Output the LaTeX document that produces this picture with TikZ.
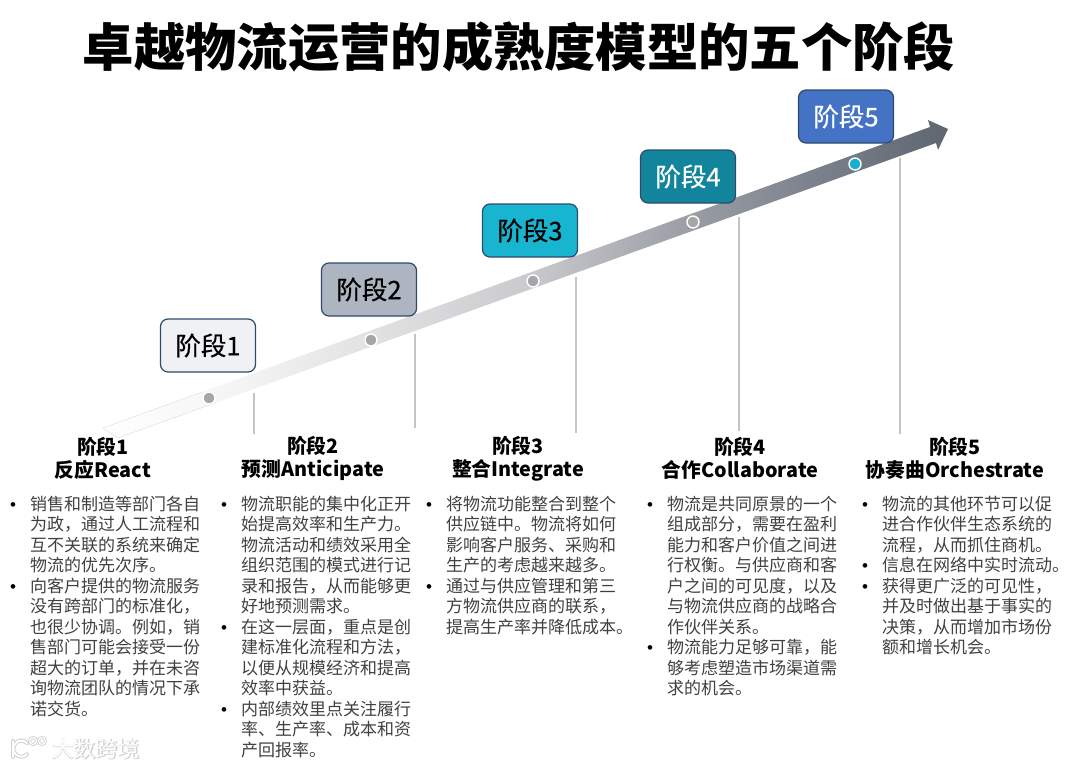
\documentclass[tikz,border=0pt]{standalone}
\usepackage{fontspec}
\setmainfont{Noto Sans CJK SC}
\newfontfamily\wmfont[FakeBold=2.5]{Noto Sans CJK SC}
\newfontfamily\stagefont[FakeBold=0.5]{Noto Sans CJK SC}
\newfontfamily\bulfont{Liberation Sans}
\usepackage{xcolor}
\usepackage{tikz}
\usetikzlibrary{calc}

\definecolor{edgeblue}{HTML}{2F4A6D}
\definecolor{stageA}{HTML}{F0F1F4}
\definecolor{stageB}{HTML}{ADB5C1}
\definecolor{stageC}{HTML}{17B5D0}
\definecolor{stageD}{HTML}{12859C}
\definecolor{stageE}{HTML}{4472C4}
\definecolor{bodygray}{HTML}{404040}
\definecolor{guidegray}{HTML}{C4C4C4}
\definecolor{dotgray}{HTML}{A6A6A6}
\definecolor{dotcyan}{HTML}{17B0CF}

\definecolor{bandA}{HTML}{F4F4F4}
\definecolor{bandB}{HTML}{E2E2E2}
\definecolor{bandC}{HTML}{C9CACD}
\definecolor{bandD}{HTML}{9A9DA5}
\definecolor{bandE}{HTML}{737A86}
\definecolor{bandF}{HTML}{5E6672}

\pgfdeclarehorizontalshading{trendshade}{100bp}{
    color(0bp)=(white); color(25bp)=(white); color(33bp)=(bandA);
    color(40.8bp)=(bandB); color(50.3bp)=(bandC);
    color(59.7bp)=(bandD); color(69.2bp)=(bandE);
    color(75bp)=(bandF); color(100bp)=(bandF)}

\newcommand{\itm}{\makebox[20pt][l]{\textcolor{black}{\bulfont\textbullet}}}
\newcommand{\ind}{\hspace*{20pt}}

\begin{document}
\begin{tikzpicture}[
    x=1pt,
    y=-1pt,
    box/.style={
        draw=edgeblue,
        line width=1.2pt,
        rounded corners=7.5pt,
        align=center,
        minimum width=95pt,
        minimum height=53pt,
        inner sep=0pt,
        font=\fontsize{25.5}{30}\stagefont
    },
    dot/.style={
        circle,
        draw=white,
        line width=1.4pt,
        minimum size=12pt,
        inner sep=0pt
    },
    guide/.style={
        draw=guidegray,
        line width=1.3pt
    },
    head/.style={
        align=center,
        inner sep=0pt,
        font=\fontsize{19.8}{23.5}\selectfont\bfseries
    },
    body/.style={
        anchor=north west,
        align=left,
        inner sep=0pt,
        text=bodygray,
        font=\fontsize{17}{20.5}\selectfont
    },
    wmark/.style={
        inner sep=0pt,
        font=\fontsize{22}{24}\selectfont
    }
]
\useasboundingbox (0,0) rectangle (1080,769);

\node[inner sep=0pt, font=\fontsize{51.3}{56}\selectfont\bfseries] (title) at (519,47)
{卓越物流运营的成熟度模型的五个阶段};

\coordinate (tailA) at (103,428);
\coordinate (tailB) at (118,438);
\coordinate (neckA) at (930,127);
\coordinate (barbA) at (928,120);
\coordinate (tip) at (948,129);
\coordinate (barbB) at (938,150);
\coordinate (neckB) at (936,143);
\shade[shading=trendshade] (tailA) -- (neckA) -- (barbA) -- (tip) -- (barbB) -- (neckB) -- (tailB) -- cycle;
\coordinate (edgeA) at ($(tailA)!0.12!(neckA)$);
\coordinate (edgeB) at ($(tailB)!0.12!(neckB)$);
\draw[black!12, line width=0.5pt] (edgeA) -- (tailA) -- (tailB) -- (edgeB);

\coordinate (topA) at (254,393);
\coordinate (botA) at (254,434);
\coordinate (topB) at (415,334);
\coordinate (botB) at (415,428);
\coordinate (topC) at (576,277);
\coordinate (botC) at (576,433);
\coordinate (topD) at (739,217);
\coordinate (botD) at (739,431);
\coordinate (topE) at (900,158);
\coordinate (botE) at (900,434);
\draw[guide] (topA) -- (botA);
\draw[guide] (topB) -- (botB);
\draw[guide] (topC) -- (botC);
\draw[guide] (topD) -- (botD);
\draw[guide] (topE) -- (botE);

\node[dot, fill=dotgray] (dotA) at (209,398) {};
\node[dot, fill=dotgray] (dotB) at (371,340) {};
\node[dot, fill=dotgray] (dotC) at (533,281) {};
\node[dot, fill=dotgray] (dotD) at (693,222) {};
\node[dot, fill=dotcyan] (dotE) at (855,164) {};

\node[box, fill=stageA] (boxA) at (208,345.5) {阶段1};
\node[box, fill=stageB] (boxB) at (369,289.5) {阶段2};
\node[box, fill=stageC] (boxC) at (530,230.5) {阶段3};
\node[box, fill=stageD, text=white] (boxD) at (688,176.5) {阶段4};
\node[box, fill=stageE, text=white] (boxE) at (846,116.5) {阶段5};

\node[head] (headA) at (103,458.5) {阶段1\\反应React};
\node[head] (headB) at (313,458.5) {阶段2\\预测Anticipate};
\node[head] (headC) at (518,458.5) {阶段3\\整合Integrate};
\node[head] (headD) at (740,458.5) {阶段4\\合作Collaborate};
\node[head] (headE) at (955,458.5) {阶段5\\协奏曲Orchestrate};

\node[body] (bodyA) at (10,495.5) {
\itm 销售和制造等部门各自\\
\ind 为政，通过人工流程和\\
\ind 互不关联的系统来确定\\
\ind 物流的优先次序。\\
\itm 向客户提供的物流服务\\
\ind 没有跨部门的标准化，\\
\ind 也很少协调。例如，销\\
\ind 售部门可能会接受一份\\
\ind 超大的订单，并在未咨\\
\ind 询物流团队的情况下承\\
\ind 诺交货。};

\node[body] (bodyB) at (221,495.5) {
\itm 物流职能的集中化正开\\
\ind 始提高效率和生产力。\\
\ind 物流活动和绩效采用全\\
\ind 组织范围的模式进行记\\
\ind 录和报告，从而能够更\\
\ind 好地预测需求。\\
\itm 在这一层面，重点是创\\
\ind 建标准化流程和方法，\\
\ind 以便从规模经济和提高\\
\ind 效率中获益。\\
\itm 内部绩效里点关注履行\\
\ind 率、生产率、成本和资\\
\ind 产回报率。};

\node[body] (bodyC) at (426,495.5) {
\itm 将物流功能整合到整个\\
\ind 供应链中。物流将如何\\
\ind 影响客户服务、采购和\\
\ind 生产的考虑越来越多。\\
\itm 通过与供应管理和第三\\
\ind 方物流供应商的联系，\\
\ind 提高生产率并降低成本。};

\node[body] (bodyD) at (647,495.5) {
\itm 物流是共同原景的一个\\
\ind 组成部分，需要在盈利\\
\ind 能力和客户价值之间进\\
\ind 行权衡。与供应商和客\\
\ind 户之间的可见度，以及\\
\ind 与物流供应商的战略合\\
\ind 作伙伴关系。\\
\itm 物流能力足够可靠，能\\
\ind 够考虑塑造市场渠道需\\
\ind 求的机会。};

\node[body] (bodyE) at (862,495.5) {
\itm 物流的其他环节可以促\\
\ind 进合作伙伴生态系统的\\
\ind 流程，从而抓住商机。\\
\itm 信息在网络中实时流动。\\
\itm 获得更广泛的可见性，\\
\ind 并及时做出基于事实的\\
\ind 决策，从而增加市场份\\
\ind 额和增长机会。};

\draw[black!18, line width=4pt, line cap=round] (13,741) -- (13,757);
\draw[black!18, line width=4pt, line cap=round] (27,743) arc (-45:-315:8);
\draw[black!18, line width=3pt] (33,741) circle (3.5) (42,741) circle (3.5);
\draw[white, line width=2pt, line cap=round] (13,741) -- (13,757);
\draw[white, line width=2pt, line cap=round] (27,743) arc (-45:-315:8);
\draw[white, line width=1.2pt] (33,741) circle (3.5) (42,741) circle (3.5);
\node[wmark, text=black!20, font=\fontsize{22}{24}\wmfont] (markback) at (96,749) {大数跨境};
\node[wmark, text=white] (markfront) at (96,749) {大数跨境};
\end{tikzpicture}
\end{document}
